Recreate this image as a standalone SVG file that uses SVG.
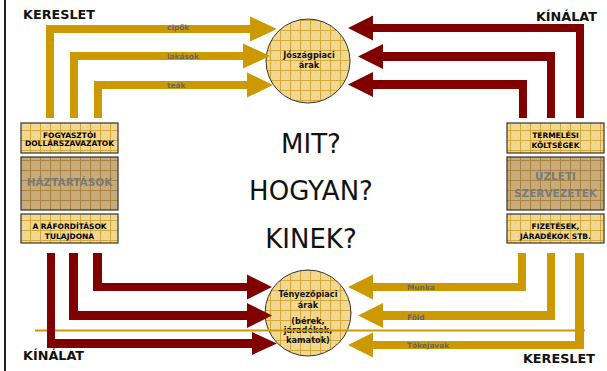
<svg xmlns="http://www.w3.org/2000/svg" width="607" height="371" viewBox="0 0 607 371">
<style>
.gold{fill:#cc9900}
.red{fill:#800000}
.lbl{font-family:"DejaVu Sans",Verdana,sans-serif;font-weight:bold;font-size:7.4px;fill:#666}
.ct{font-family:"DejaVu Sans",Verdana,sans-serif;font-weight:bold;font-size:8.2px;fill:#111;text-anchor:middle}
.bt{font-family:"DejaVu Sans",Verdana,sans-serif;font-weight:bold;font-size:7.5px;fill:#000;text-anchor:middle}
.gt{font-family:"DejaVu Sans",Verdana,sans-serif;font-weight:bold;font-size:10.5px;fill:#7a7a7a;text-anchor:middle}
.big{font-family:"DejaVu Sans",Verdana,sans-serif;font-size:26px;fill:#111;text-anchor:middle}
.corner{font-family:"DejaVu Sans",Verdana,sans-serif;font-weight:bold;font-size:12.8px;fill:#111}
.box{fill:url(#grid);stroke:#333;stroke-width:1.2}
.dbox{fill:url(#dgrid);stroke:#333;stroke-width:1.2}
.circ{fill:url(#grid);stroke:#333;stroke-width:1}
</style>
<defs>
<pattern id="grid" width="10" height="10" patternUnits="userSpaceOnUse">
<rect width="10" height="10" fill="#f1d994"/>
<path d="M1,3h1M5,3h1M3,7h1M7,7h1" stroke="#e6c87a" stroke-width="1"/>
<path d="M0,0.5H10M0.5,0V10" stroke="#d6a838" stroke-width="1"/>
</pattern>
<pattern id="dgrid" width="10" height="10" patternUnits="userSpaceOnUse">
<rect width="10" height="10" fill="#c9aa7a"/>
<path d="M0,0.5H10M0.5,0V10" stroke="#a9853f" stroke-width="1"/>
</pattern>
</defs>
<rect x="4" y="0" width="2" height="371" fill="#222"/>

<g id="node-joszagpiaci">
<circle class="circ" cx="308" cy="61" r="42"/>
<text class="ct" x="309" y="57.5">Jószágpiaci</text>
<text class="ct" x="309" y="68">árak</text>
</g>
<g id="node-tenyezopiaci">
<circle class="circ" cx="308" cy="313" r="43"/>
<text class="ct" x="308" y="297">Tényezőpiaci</text>
<text class="ct" x="308" y="308">árak</text>
<text class="ct" x="308" y="324">(bérek,</text>
<text class="ct" x="308" y="333">járadékok,</text>
<text class="ct" x="308" y="343">kamatok)</text>
</g>
<g id="node-fogyasztoi">
<rect class="box" x="21" y="123" width="97" height="30"/>
<text class="bt" x="69.5" y="137.5">FOGYASZTÓI</text>
<text class="bt" x="69.5" y="146">DOLLÁRSZAVAZATOK</text>
</g>
<g id="node-haztartasok">
<rect class="dbox" x="21" y="157" width="97" height="53"/>
<text class="gt" x="69.5" y="186">HÁZTARTÁSOK</text>
</g>
<g id="node-raforditasok">
<rect class="box" x="21" y="214" width="97" height="29"/>
<text class="bt" x="69.5" y="228.5">A RÁFORDÍTÁSOK</text>
<text class="bt" x="69.5" y="239">TULAJDONA</text>
</g>
<g id="node-termelesi">
<rect class="box" x="507" y="123" width="97" height="30"/>
<text class="bt" x="555.5" y="137.5">TERMELÉSI</text>
<text class="bt" x="555.5" y="148">KÖLTSÉGEK</text>
</g>
<g id="node-uzleti">
<rect class="dbox" x="507" y="157" width="97" height="53"/>
<text class="gt" x="555.5" y="180">ÜZLETI</text>
<text class="gt" x="555.5" y="197">SZERVEZETEK</text>
</g>
<g id="node-fizetesek">
<rect class="box" x="507" y="214" width="97" height="29"/>
<text class="bt" x="555.5" y="228.5">FIZETÉSEK,</text>
<text class="bt" x="555.5" y="239">JÁRADÉKOK STB.</text>
</g>

<g id="center-text">
<text class="big" x="311" y="153">MIT?</text>
<text class="big" x="311" y="200">HOGYAN?</text>
<text class="big" x="311" y="248">KINEK?</text>
</g>
<g id="corner-labels">
<text class="corner" x="23" y="19">KERESLET</text>
<text class="corner" x="597" y="21" text-anchor="end">KÍNÁLAT</text>
<text class="corner" x="23" y="360">KÍNÁLAT</text>
<text class="corner" x="595" y="363" text-anchor="end">KERESLET</text>
</g>

<g id="connectors">
<rect x="35" y="329.5" width="550" height="2" fill="#cc9900"/>
<path class="gold" d="M46,118 V25 H250 V16.5 L277,29 L250,41.5 V33 H54 V118 Z"/>
<path class="gold" d="M70,118 V52 H243 V43.5 L270,56 L243,68.5 V60 H78 V118 Z"/>
<path class="gold" d="M94,118 V81 H247 V72.5 L273,85 L247,97.5 V89 H102 V118 Z"/>
<path class="red" d="M584,118 V24 H373 V15.5 L348,28 L373,40.5 V32 H576 V118 Z"/>
<path class="red" d="M555,118 V52 H383 V44 L358,56.5 L383,69 V61 H547 V118 Z"/>
<path class="red" d="M527,118 V80 H373 V72 L348,84.5 L373,97 V89 H519 V118 Z"/>
<path class="red" d="M93,253 H102 V283 H247 V274.5 L272,287 L247,299.5 V291 H93 Z"/>
<path class="red" d="M69,253 H78 V311 H247 V303 L272,315.5 L247,328 V320 H69 Z"/>
<path class="red" d="M47,253 H55 V339 H252 V332 L277,343.5 L252,355 V348 H47 Z"/>
<path class="gold" d="M526,253 V291 H373 V299.5 L348,287 L373,274.5 V283 H518 V253 Z"/>
<path class="gold" d="M555,253 V320 H383 V328 L358,315.5 L383,303 V311 H547 V253 Z"/>
<path class="gold" d="M584,253 V349 H373 V357.5 L348,345 L373,332.5 V341 H575 V253 Z"/>
<text class="lbl" x="167" y="30">cipők</text>
<text class="lbl" x="167" y="59">lakások</text>
<text class="lbl" x="167" y="88">teák</text>
<text class="lbl" x="407" y="290">Munka</text>
<text class="lbl" x="407" y="320">Föld</text>
<text class="lbl" x="407" y="348">Tőkejavak</text>
</g>
</svg>
